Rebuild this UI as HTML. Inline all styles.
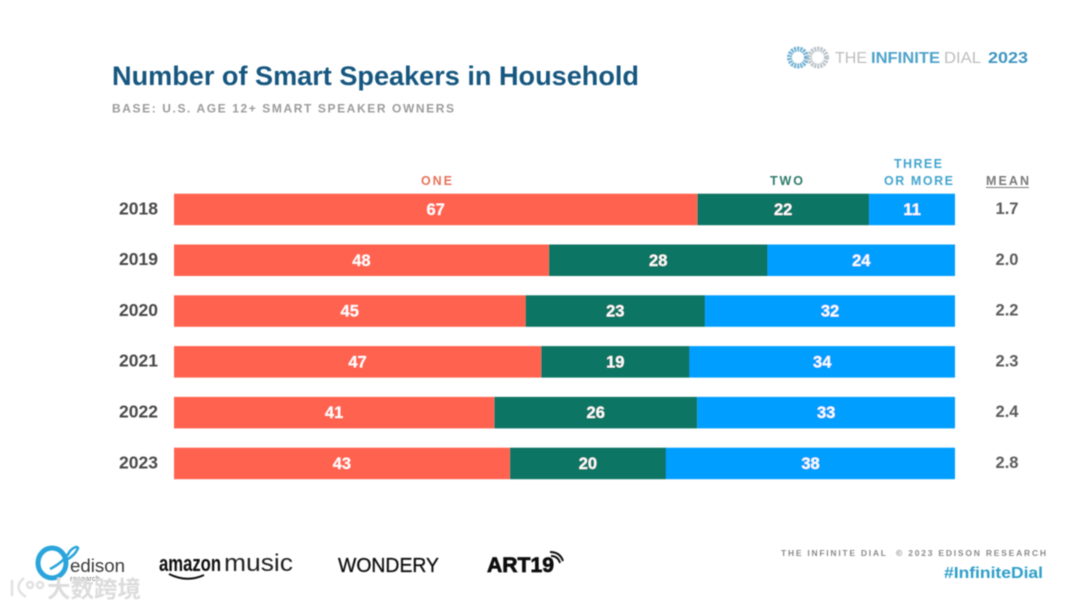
<!DOCTYPE html>
<html lang="en">
<head>
<meta charset="utf-8">
<title>Number of Smart Speakers in Household</title>
<style>
html,body{margin:0;padding:0;background:#fff;width:1080px;height:608px;overflow:hidden}
svg{display:block;font-family:"Liberation Sans","Noto Sans CJK SC",sans-serif}
text{font-weight:700}
</style>
</head>
<body>
<svg id="chart" width="1080" height="608" viewBox="0 0 1080 608" xmlns="http://www.w3.org/2000/svg">
  <defs>
    <filter id="soft" x="-5%" y="-20%" width="110%" height="140%"><feGaussianBlur stdDeviation="0.45"/></filter>
  </defs>
  <rect width="1080" height="608" fill="#ffffff"/>

  <g filter="url(#soft)">
    <text x="112" y="85" font-size="26.500" fill="#17577f" textLength="527" lengthAdjust="spacingAndGlyphs">Number of Smart Speakers in Household</text>
    <text x="112" y="112.500" font-size="12" fill="#9b9b9b" textLength="342" lengthAdjust="spacing">BASE: U.S. AGE 12+ SMART SPEAKER OWNERS</text>

    <g>
      <g fill="none" stroke-width="5" stroke-dasharray="2 1">
        <circle cx="798" cy="57.500" r="8.500" stroke="#6fb0d2"/>
        <circle cx="818" cy="57.500" r="8.500" stroke="#b9c3c9"/>
      </g>
      <text x="835" y="63" font-size="15.500" fill="#bdbdbd" style="font-weight:400" textLength="32" lengthAdjust="spacingAndGlyphs">THE</text>
      <text x="871" y="63" font-size="15.500" fill="#4fa3c9" textLength="69" lengthAdjust="spacingAndGlyphs">INFINITE</text>
      <text x="944" y="63" font-size="15.500" fill="#bdbdbd" style="font-weight:400" textLength="37" lengthAdjust="spacingAndGlyphs">DIAL</text>
      <text x="988" y="63" font-size="16" fill="#3f94c0" textLength="40" lengthAdjust="spacingAndGlyphs">2023</text>
    </g>

    <g id="legend" font-size="12.500">
      <text x="421" y="185" fill="#e8725c" textLength="31" lengthAdjust="spacing">ONE</text>
      <text x="770" y="185" fill="#2f7b69" textLength="33" lengthAdjust="spacing">TWO</text>
      <text x="894" y="168" fill="#45a5cf" textLength="48" lengthAdjust="spacing">THREE</text>
      <text x="884" y="185" fill="#45a5cf" textLength="69" lengthAdjust="spacing">OR MORE</text>
      <text x="986" y="185" fill="#7a7a7a" textLength="43" lengthAdjust="spacing">MEAN</text>
      <line x1="986" x2="1029" y1="187.500" y2="187.500" stroke="#7a7a7a" stroke-width="1"/>
    </g>

    <g id="bars"></g>

    <g>
      <g>
        <ellipse cx="52" cy="563" rx="14" ry="15" fill="none" stroke="#2ca5dc" stroke-width="5"/>
        <path d="M50 569 Q64 562 70 551 Q76 545 78 548 Q75 556 64 561" fill="none" stroke="#2ca5dc" stroke-width="2.500"/>
        <text x="70" y="572" font-size="18" fill="#3a3a3a" style="font-weight:400" textLength="55" lengthAdjust="spacingAndGlyphs">edison</text>
        <text x="70" y="581" font-size="7.500" fill="#777777" style="font-weight:400" textLength="30" lengthAdjust="spacing">research</text>
      </g>
      <g>
        <text x="159" y="571" font-size="22" fill="#111111" textLength="62" lengthAdjust="spacingAndGlyphs">amazon</text>
        <text x="224" y="571" font-size="24" fill="#222222" style="font-weight:400" textLength="69" lengthAdjust="spacingAndGlyphs">music</text>
        <path d="M169 574 Q187 583 204 575" fill="none" stroke="#111111" stroke-width="2"/>
      </g>
      <text x="338" y="572" font-size="20" fill="#111111" style="font-weight:400" stroke="#111111" stroke-width="0.300" textLength="101" lengthAdjust="spacingAndGlyphs">WONDERY</text>
      <g>
        <text x="487" y="572" font-size="21" fill="#111111" stroke="#111111" stroke-width="0.700" textLength="67" lengthAdjust="spacingAndGlyphs">ART19</text>
        <path d="M551 556 Q558 556 560 563 M550 552 Q560 552 563 561" fill="none" stroke="#111111" stroke-width="2"/>
      </g>
    </g>

    <text x="781" y="556" font-size="8.500" fill="#8a8a8a" textLength="105" lengthAdjust="spacing">THE INFINITE DIAL</text>
    <text x="896" y="556" font-size="8.500" fill="#8a8a8a" textLength="150" lengthAdjust="spacing">© 2023 EDISON RESEARCH</text>
    <text x="944" y="578" font-size="15.500" fill="#2f9fc9" textLength="99" lengthAdjust="spacingAndGlyphs">#InfiniteDial</text>

    <g>
      <path d="M12 580 V596 M24 578 Q12 588 26 597 M30 582 a3 3 0 1 0 0.100 0 M40 582 a3 3 0 1 0 0.100 0" fill="none" stroke="#e2e2e2" stroke-width="2.500"/>
      <text x="47" y="597" font-size="23" fill="#dcdcdc" textLength="94" lengthAdjust="spacingAndGlyphs">大数跨境</text>
    </g>
  </g>
</svg>
<script>
const years = ['2018', '2019', '2020', '2021', '2022', '2023'];
const oneValues = [67, 48, 45, 47, 41, 43];
const twoValues = [22, 28, 23, 19, 26, 20];
const threeValues = [11, 24, 32, 34, 33, 38];
const meanLabels = ['1.7', '2.0', '2.2', '2.3', '2.4', '2.8'];

const NS = 'http://www.w3.org/2000/svg';
const barsRoot = document.getElementById('bars');
const xLeft = 174, xRight = 955, rowTop = 193.7, rowStep = 50.8, barHeight = 31.5;
const colors = ['#ff6350', '#0f7564', '#069fff'];
const seriesNames = ['one', 'two', 'three-or-more'];

function xScale(v) {
  return xLeft + Math.min(v, 100) * (xRight - xLeft) / 100;
}
function yScale(i) {
  return rowTop + i * rowStep;
}
function addText(parent, x, y, content, size, fill) {
  const t = document.createElementNS(NS, 'text');
  t.setAttribute('x', x);
  t.setAttribute('y', y);
  t.setAttribute('text-anchor', 'middle');
  t.setAttribute('font-size', size);
  t.setAttribute('fill', fill);
  t.textContent = content;
  parent.appendChild(t);
  return t;
}

years.forEach(function (year, i) {
  const y = yScale(i);
  const mid = y + barHeight / 2;

  const yearLabel = addText(barsRoot, 138.5, mid + 4.8, year, 17.5, '#4a4a4a');
  
  

  const rowValues = [oneValues[i], twoValues[i], threeValues[i]];
  let cumulative = 0;
  rowValues.forEach(function (value, s) {
    const x0 = xScale(cumulative);
    const x1 = xScale(cumulative + value);
    const rect = document.createElementNS(NS, 'rect');
    rect.setAttribute('x', x0);
    rect.setAttribute('y', y);
    rect.setAttribute('width', x1 - x0);
    rect.setAttribute('height', barHeight);
    rect.setAttribute('fill', colors[s]);
    
    
    barsRoot.appendChild(rect);

    const valueLabel = addText(barsRoot, (x0 + x1) / 2, mid + 5.5, String(value), 16.5, '#ffffff');
    
    
    cumulative += value;
  });

  const meanLabel = addText(barsRoot, 1007, mid + 4.5, meanLabels[i], 16.5, '#5c5c5c');
  
  
});
</script>
</body>
</html>
